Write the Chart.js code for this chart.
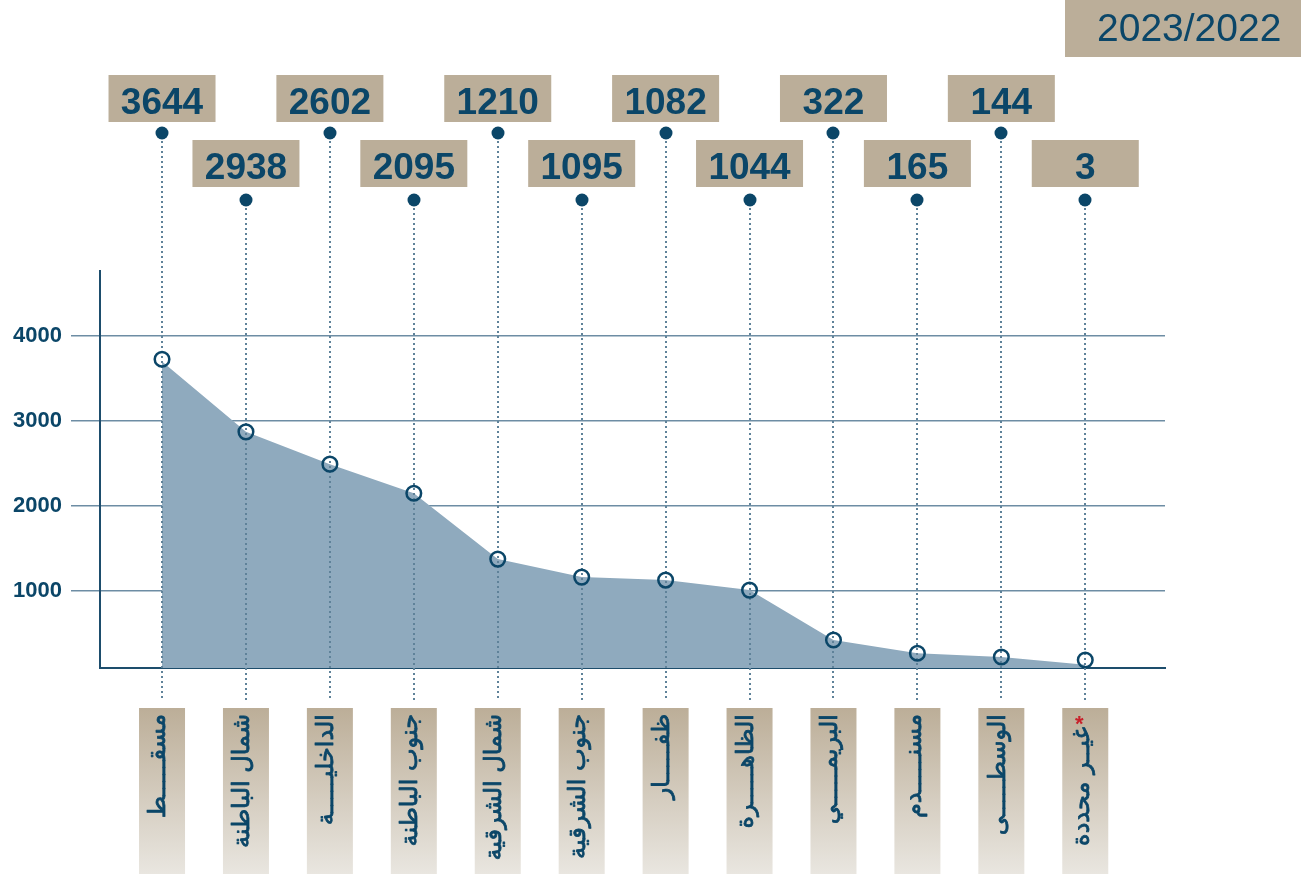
<!DOCTYPE html>
<html><head><meta charset="utf-8">
<script src="https://cdn.jsdelivr.net/npm/chart.js@4/dist/chart.umd.min.js"></script>
<style>html,body{margin:0;padding:0;background:#fff;}#wrap{width:1301px;height:874px;}</style>
</head><body><div id="wrap"><canvas id="c" width="1301" height="874"></canvas></div>
<script>
// ---- data ----
const categories = ["مسقـــــط", "شمال الباطنة", "الداخليـــــة", "جنوب الباطنة", "شمال الشرقية", "جنوب الشرقية", "ظفـــــار", "الظاهـــــرة", "البريمـــــي", "مسنـــــدم", "الوسطـــــى", "غيــر محددة"];
const labelValues = [3644, 2938, 2602, 2095, 1210, 1095, 1082, 1044, 322, 165, 144, 3];
const markerValues = [3726, 2871, 2491, 2149, 1373, 1161, 1126, 1008, 420, 264, 220, 185];
const areaValues = [3700, 2871, 2491, 2149, 1373, 1161, 1126, 1008, 420, 264, 220, 130];
const footnoteFlags = [false, false, false, false, false, false, false, false, false, false, false, true];
const yTicks = [1000, 2000, 3000, 4000];
const periodLabel = "2023/2022";

// ---- styles ----
const DARK = '#0b4668';
const TAN = '#bbae99';
const AREA = 'rgb(143,170,190)';
const GRID = 'rgba(30,80,115,0.65)';
const AXIS = '#1d4d6c';
const DOT_LINE = '#5f8299';

const annotate = {
  id: 'annotate',
  beforeDatasetDraw(chart, args) {
    if (args.index !== 1) return;
    const ctx = chart.ctx, xs = chart.scales.x;
    ctx.save();
    ctx.strokeStyle = DOT_LINE;
    ctx.lineWidth = 2;
    ctx.setLineDash([2, 3]);
    categories.forEach((c, i) => {
      const x = Math.round(xs.getPixelForValue(i));
      const y0 = i % 2 === 0 ? 141 : 208;
      ctx.beginPath();
      ctx.moveTo(x, y0);
      ctx.lineTo(x, 700);
      ctx.stroke();
    });
    ctx.restore();
  },
  afterDraw(chart) {
    const ctx = chart.ctx, xs = chart.scales.x;
    ctx.save();
    // period box
    ctx.fillStyle = TAN;
    ctx.fillRect(1065, 0, 236, 57);
    ctx.fillStyle = DARK;
    ctx.font = '39px "Liberation Sans", Arial, sans-serif';
    ctx.textAlign = 'left';
    ctx.textBaseline = 'alphabetic';
    ctx.fillText(periodLabel, 1097, 41);

    categories.forEach((c, i) => {
      const x = xs.getPixelForValue(i);
      const even = i % 2 === 0;
      const top = even ? 75 : 140;
      // top value box
      ctx.fillStyle = TAN;
      ctx.fillRect(x - 53.5, top, 107, 47);
      ctx.fillStyle = DARK;
      ctx.font = 'bold 37px "Liberation Sans", Arial, sans-serif';
      ctx.textAlign = 'center';
      ctx.textBaseline = 'alphabetic';
      ctx.fillText(String(labelValues[i]), x, top + 38.5);
      // dot
      ctx.beginPath();
      ctx.arc(Math.round(x), even ? 133 : 200, 6.5, 0, Math.PI * 2);
      ctx.fill();

      // bottom label box with gradient
      const bx = x - 23, by = 708, bw = 46, bh = 166;
      const g = ctx.createLinearGradient(0, by, 0, by + bh);
      g.addColorStop(0, '#bcae98');
      g.addColorStop(1, '#e9e6e0');
      ctx.fillStyle = g;
      ctx.fillRect(bx, by, bw, bh);
      // rotated arabic text
      ctx.save();
      const startY = footnoteFlags[i] ? 727 : 714;
      ctx.translate(x - 3, startY);
      ctx.rotate(-Math.PI / 2);
      ctx.direction = 'rtl';
      ctx.fillStyle = DARK;
      ctx.strokeStyle = DARK;
      ctx.lineWidth = 0.8;
      ctx.lineJoin = 'round';
      ctx.font = '24px "DejaVu Sans", sans-serif';
      ctx.textAlign = 'right';
      ctx.textBaseline = 'middle';
      ctx.fillText(c, 0, 0);
      ctx.strokeText(c, 0, 0);
      ctx.restore();
      if (footnoteFlags[i]) {
        ctx.fillStyle = '#c8202a';
        ctx.font = 'bold 22px "Liberation Sans", Arial, sans-serif';
        ctx.textAlign = 'center';
        ctx.textBaseline = 'alphabetic';
        ctx.fillText('*', x - 6, 731);
      }
    });
    ctx.restore();
  }
};

new Chart(document.getElementById('c'), {
  type: 'line',
  data: {
    datasets: [
      {
        data: areaValues.map((v, i) => ({ x: i, y: v })),
        fill: 'start',
        backgroundColor: AREA,
        borderWidth: 0,
        pointRadius: 0,
        tension: 0,
        order: 2
      },
      {
        data: markerValues.map((v, i) => ({ x: i, y: v })),
        showLine: false,
        pointRadius: 7.3,
        pointBorderWidth: 2.5,
        pointBorderColor: DARK,
        pointBackgroundColor: 'rgba(0,0,0,0)',
        order: 1
      }
    ]
  },
  options: {
    responsive: false,
    animation: false,
    devicePixelRatio: 1,
    layout: { padding: { top: 271, right: 136, left: 0, bottom: 0 } },
    plugins: { legend: { display: false }, tooltip: { enabled: false } },
    scales: {
      x: {
        type: 'linear',
        min: -0.739,
        max: 11.95,
        z: 1,
        grid: { display: false },
        ticks: { display: false },
        border: { display: true, color: AXIS, width: 2 },
        afterFit: s => { s.height = 206; }
      },
      y: {
        min: 91,
        max: 4765,
        z: 1,
        afterBuildTicks: s => { s.ticks = yTicks.map(v => ({ value: v })); },
        grid: { color: GRID, lineWidth: 1.5, tickLength: 29, drawTicks: true, tickColor: GRID },
        border: { display: true, color: AXIS, width: 2 },
        ticks: { color: DARK, padding: 9, callback: v => String(v), font: { family: '"Liberation Sans", Arial, sans-serif', size: 22, weight: 'bold' } },
        afterFit: s => { s.width = 100; }
      }
    }
  },
  plugins: [annotate]
});
</script>
</body></html>
